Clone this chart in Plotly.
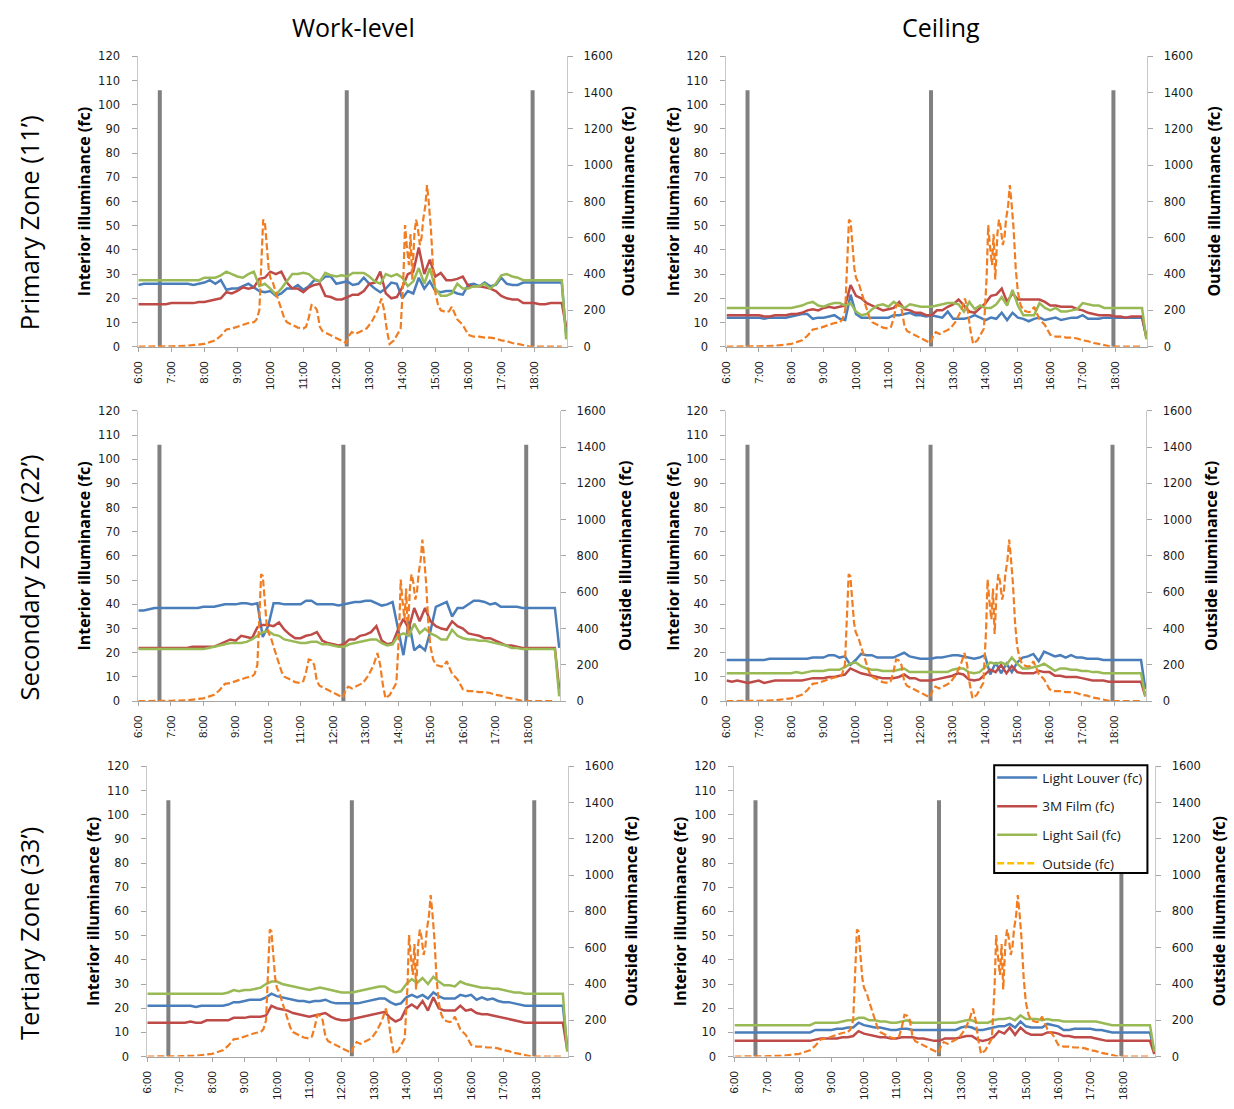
import plotly.graph_objects as go

W, H = 1234, 1109

# ---------------- data ----------------
TICK_HOURS = [6, 7, 8, 9, 10, 11, 12, 13, 14, 15, 16, 17, 18]
TICK_LABELS = ["6:00", "7:00", "8:00", "9:00", "10:00", "11:00", "12:00",
               "13:00", "14:00", "15:00", "16:00", "17:00", "18:00"]

# interior samples every 10 min from 6:00 to 18:50, plus the final drop point
GRID_LABELS = [f"{h}:{m:02d}" for h in range(6, 19) for m in range(0, 60, 10)]
END_TIME = "18:58"

SERIES_NAMES = ["Light Louver (fc)", "3M Film (fc)", "Light Sail (fc)"]

TL_LOUVER = [25.5, 26, 26, 26, 26, 26,
             26, 26, 26, 26, 25.5, 26,
             26.5, 27.5, 26, 27.5, 23.5, 24,
             24, 25, 26, 24.5, 23, 22.5,
             23, 21, 22, 24, 24, 25.5,
             23.5, 25, 27.5, 27, 29, 29,
             26, 26.5, 27, 25.5, 26, 28.5,
             26, 24, 22.5, 24, 26.5, 26,
             20, 23, 22, 28.5, 24, 27,
             23, 22.5, 23, 23, 22, 21.5,
             25.5, 26, 25, 26.5, 25, 25.5,
             28.5, 26, 25.5, 25.5, 26.5, 26.5,
             26.5, 26.5, 26.5, 26.5, 26.5, 26.5,
             5]
TL_FILM = [17.5, 17.5, 17.5, 17.5, 17.5, 17.5,
           18, 18, 18, 18, 18, 18.5,
           18.5, 19, 19.5, 20, 22.5, 22,
           23, 24.5, 24, 24.5, 28, 28.5,
           31, 30, 31, 26.5, 24, 24,
           22.5, 24.5, 25.5, 26, 21, 20.5,
           19.5, 19.5, 20.5, 21.5, 21.5, 23,
           26, 26.5, 31, 22, 20, 20.5,
           24.5, 30, 31, 41, 30, 36,
           29, 30.5, 27.5, 27.5, 28, 29,
           25, 25, 25, 24.5, 24, 23,
           21, 20, 19.5, 19.5, 18, 18,
           18, 17.5, 17.5, 18, 18, 18,
           8]
TL_SAIL = [27.5, 27.5, 27.5, 27.5, 27.5, 27.5,
           27.5, 27.5, 27.5, 27.5, 27.5, 27.5,
           28.5, 28.5, 28.5, 29.5, 31, 30,
           29, 28.5, 30, 31, 25, 26,
           24, 21.5, 24, 27, 30, 30,
           30.5, 30, 28, 27, 30.5, 29.5,
           29, 29.5, 29, 30.5, 30.5, 30.5,
           29, 27, 26, 30, 29, 30,
           28.5, 25, 27, 32.5, 26, 32.5,
           24, 21, 21, 22, 26, 24,
           24, 25, 25, 26, 24, 26,
           29.5, 30, 29, 28.5, 27.5, 27.5,
           27.5, 27.5, 27.5, 27.5, 27.5, 27.5,
           3]

TR_LOUVER = [12, 12, 12, 12, 12, 12,
             12, 11.5, 12, 12, 12, 12,
             12.5, 13, 13.5, 13.5, 11.5, 12,
             12, 12.5, 13, 11.5, 11, 21.5,
             13.5, 12, 12, 12, 12, 12,
             12, 13, 13, 13.5, 14, 13,
             13, 12.5, 13, 12.5, 12, 14.5,
             11.5, 11.5, 11.5, 12, 13, 12,
             11, 12, 11.5, 14, 11, 14,
             12, 11.5, 10.5, 11.5, 12, 11,
             11.5, 12, 11, 11.5, 12, 12,
             13, 11.5, 11.5, 11.5, 12, 12,
             12, 12, 12, 12, 12, 12,
             4]
TR_FILM = [13, 13, 13, 13, 13, 13,
           13, 12.5, 12.5, 13, 13, 13,
           13.5, 13.5, 14, 15, 15.5, 15,
           16, 16.5, 16, 16.5, 17, 25.5,
           21, 20, 18, 17, 16, 15,
           15.5, 16, 18.5, 15.5, 15, 14,
           14, 13, 13, 15, 15, 16.5,
           17.5, 19.5, 17, 14.5, 14, 16,
           18, 21, 21.5, 24, 18.5, 22,
           19.5, 19.5, 19.5, 19.5, 19.5, 18.5,
           17, 17, 16.5, 16.5, 16.5, 15.5,
           15, 14, 13.5, 13, 13, 13,
           12.5, 12.5, 12, 12.5, 12.5, 12.5,
           4]
TR_SAIL = [16, 16, 16, 16, 16, 16,
           16, 16, 16, 16, 16, 16,
           16, 16.5, 17, 18, 18.5, 17,
           16.5, 17.5, 18, 18, 17, 18,
           14.5, 13, 13.5, 15.5, 17, 17.5,
           16.5, 18.5, 17, 16, 17.5, 17,
           16.5, 16.5, 16.5, 17, 17.5, 18,
           18, 17.5, 14.5, 18.5, 15.5, 17,
           16, 16, 17.5, 20.5, 17, 23.5,
           17, 13, 13, 13, 18, 16,
           15, 16, 14.5, 14.5, 15, 15.5,
           18, 17.5, 17, 17, 16, 16,
           16, 16, 16, 16, 16, 16,
           3]

ML_LOUVER = [37.5, 37.5, 38, 38.5, 38.5, 38.5,
             38.5, 38.5, 38.5, 38.5, 38.5, 38.5,
             39, 39, 39, 39.5, 40, 40,
             40, 40.5, 40.5, 40, 40.5, 26.5,
             31, 40.5, 40.5, 40, 40, 40,
             40, 41.5, 41.5, 40, 40, 40,
             40, 39.5, 40, 40.5, 41, 41,
             41.5, 41.5, 40.5, 39.5, 40, 41,
             30, 19, 33, 21, 23, 21,
             29, 39, 40, 41, 35, 38.5,
             38.5, 40, 41.5, 41.5, 41, 40,
             40.5, 39, 39, 39, 39, 38.5,
             38.5, 38.5, 38.5, 38.5, 38.5, 38.5,
             22]
ML_FILM = [22, 22, 22, 22, 22, 22,
           22, 22, 22, 22, 22.5, 22.5,
           22.5, 22.5, 22.5, 23.5, 24.5, 25.5,
           25, 27, 26.5, 26, 30.5, 31.5,
           31.5, 31, 32.5, 29.5, 27.5, 26,
           26, 27, 27.5, 28.5, 25, 24,
           23.5, 23, 23.5, 25.5, 25.5, 27,
           27.5, 28.5, 31, 25, 23.5, 24,
           29.5, 34, 30, 38.5, 33, 38.5,
           33, 31, 30, 29.5, 33, 31,
           30, 28, 27.5, 27, 26, 26,
           25, 24, 23, 23, 22.5, 22,
           22, 22, 22, 22, 22, 22,
           5]
ML_SAIL = [21.5, 21.5, 21.5, 21.5, 21.5, 21.5,
           21.5, 21.5, 21.5, 21.5, 21.5, 21.5,
           21.5, 22, 22.5, 23, 23.5, 24,
           24, 24, 24.5, 25.5, 27, 28.5,
           29, 27.5, 27, 25.5, 25, 24.5,
           24, 24, 24.5, 24.5, 23.5, 23.5,
           23, 22.5, 22.5, 23.5, 24, 24.5,
           25, 25.5, 25.5, 24, 23, 23.5,
           27, 28, 27, 32, 28, 30,
           28, 27, 25.5, 25.5, 29.5, 27,
           26, 25.5, 25.5, 25, 25, 24.5,
           24, 23.5, 23, 22, 22, 21.5,
           21.5, 21.5, 21.5, 21.5, 21.5, 21.5,
           2]

MR_LOUVER = [17, 17, 17, 17, 17, 17,
             17, 17, 17.5, 17.5, 17.5, 17.5,
             17.5, 17.5, 17.5, 17.5, 18, 18,
             18, 19, 19, 18, 18.5, 15,
             17, 19.5, 19, 19, 18, 18,
             18, 18, 19, 20, 18.5, 18,
             17.5, 17.5, 17.5, 18, 18, 18.5,
             19, 19, 18.5, 18, 17.5, 18,
             19, 11, 16, 11.5, 15.5, 12,
             16, 18, 18.5, 19.5, 16.5, 20.5,
             19.5, 18.5, 19, 18, 19, 18,
             18, 17.5, 17.5, 17.5, 17, 17,
             17, 17, 17, 17, 17, 17,
             5]
MR_FILM = [8.5, 8, 8.5, 8, 7.5, 8,
           8.5, 7.5, 8, 8.5, 8.5, 8.5,
           8.5, 8.5, 8.5, 9, 9.5, 9.5,
           9.5, 10, 10, 10.5, 11, 13.5,
           12.5, 11.5, 11, 10.5, 10, 9.5,
           9.5, 9.5, 10, 11, 9.5, 9.5,
           8.5, 8.5, 8.5, 9, 9.5, 10,
           10.5, 11.5, 11, 9, 8.5, 9,
           11, 13, 12, 15, 11.5, 14.5,
           12, 11.5, 11.5, 11.5, 12.5, 12,
           12, 10.5, 10.5, 10, 10, 10,
           9.5, 9, 8.5, 8.5, 8.5, 8,
           8, 8, 8, 8, 8, 8,
           2]
MR_SAIL = [11.5, 11.5, 11.5, 11.5, 11.5, 11.5,
           11.5, 11.5, 11.5, 11.5, 11.5, 11.5,
           11.5, 12, 11.5, 12, 12.5, 12.5,
           12.5, 13, 13, 13, 14, 15.5,
           16, 14.5, 13.5, 13, 13, 12.5,
           12.5, 12.5, 13, 13.5, 12, 12,
           12, 12, 12, 12, 12, 12,
           13, 13.5, 13.5, 12, 11.5, 12,
           14, 16, 15.5, 16, 15, 18,
           15.5, 13.5, 13.5, 14, 14.5, 15.5,
           14, 12.5, 13.5, 13.5, 13, 13,
           12.5, 12.5, 12, 12, 11.5, 11.5,
           11.5, 11.5, 11.5, 11.5, 11.5, 11.5,
           2]

BL_LOUVER = [21, 21, 21, 21, 21, 21,
             21, 21, 21, 20.5, 21, 21,
             21, 21, 21, 21.5, 22.5, 22.5,
             23, 23.5, 23.5, 23.5, 24.5, 26,
             25, 24.5, 24, 23.5, 23, 23,
             22.5, 23, 23, 23.5, 22.5, 22,
             22, 22, 22, 22, 22.5, 23,
             23.5, 24, 24, 22.5, 21.5, 22,
             24.5, 25.5, 24.5, 25.5, 24, 26.5,
             25, 24, 24, 24, 25.5, 25,
             25.5, 23.5, 24.5, 23.5, 24, 23,
             22.5, 22.5, 22, 21.5, 21, 21,
             21, 21, 21, 21, 21, 21,
             4]
BL_FILM = [14, 14, 14, 14, 14, 14,
           14, 14, 14.5, 14, 14, 15,
           15, 15, 15, 15, 16, 16,
           16, 16.5, 16.5, 16.5, 17, 21,
           20, 19.5, 19, 18, 17.5, 17,
           16.5, 17, 17.5, 18, 16.5, 15.5,
           15, 15, 15.5, 16, 16.5, 17,
           17.5, 18, 18.5, 16, 14.5, 15.5,
           20, 21.5, 20, 23, 19, 24.5,
           20, 19, 19, 19, 21, 19,
           19.5, 18, 17.5, 17.5, 17, 16.5,
           16, 15.5, 15, 14.5, 14, 14,
           14, 14, 14, 14, 14, 14,
           3]
BL_SAIL = [26, 26, 26, 26, 26, 26,
           26, 26, 26, 26, 26, 26,
           26, 26, 26, 26.5, 27.5, 27,
           27.5, 27.5, 28, 28.5, 30, 31,
           31, 30, 29.5, 29, 28.5, 28,
           27.5, 28, 28.5, 28, 27.5, 27,
           26.5, 26.5, 26.5, 27, 27.5, 28,
           28.5, 29, 29, 27.5, 26.5, 27,
           30, 32, 30.5, 32.5, 30, 33,
           31, 29.5, 29.5, 29, 31, 30,
           29.5, 29, 28.5, 28.5, 28, 28,
           27.5, 27, 26.5, 26.5, 26, 26,
           26, 26, 26, 26, 26, 26,
           2]

BR_LOUVER = [10, 10, 10, 10, 10, 10,
             10, 10, 10, 10, 10, 10,
             10, 10, 10, 11, 11, 11,
             11, 11.5, 11.5, 12, 12, 14,
             13, 12.5, 12, 12, 11.5, 11,
             11, 11.5, 11.5, 11, 11, 11,
             11, 11, 11, 11, 11, 11,
             12, 12.5, 12, 11, 11, 11.5,
             12, 12.5, 12.5, 13.5, 12, 14.5,
             12.5, 12, 12, 12, 13.5, 13,
             12.5, 11, 11, 11.5, 11.5, 11.5,
             11.5, 11, 11, 10.5, 10, 10,
             10, 10, 10, 10, 10, 10,
             2]
BR_FILM = [6.5, 6.5, 6.5, 6.5, 6.5, 6.5,
           6.5, 6.5, 6.5, 6.5, 6.5, 6.5,
           6.5, 6.5, 6.5, 7, 7.5, 7.5,
           7.5, 7.5, 8, 8, 8.5, 10.5,
           9.5, 9, 8.5, 8, 8, 7.5,
           7.5, 8, 8, 8, 7.5, 7.5,
           7, 6.5, 6.5, 7.5, 7.5, 7.5,
           8, 8.5, 8.5, 7, 6.5, 7,
           8, 10.5, 9.5, 12, 9, 12,
           10, 9, 9, 9, 10, 10,
           9.5, 8.5, 8.5, 8, 8, 8,
           8, 7.5, 7, 6.5, 6.5, 6.5,
           6.5, 6.5, 6.5, 6.5, 6.5, 6.5,
           1]
BR_SAIL = [13, 13, 13, 13, 13, 13,
           13, 13, 13, 13, 13, 13,
           13, 13, 13, 14, 14, 14,
           14, 14, 14.5, 15, 15, 16,
           16, 15, 15, 14.5, 14.5, 14,
           14, 14.5, 15, 14, 14, 14,
           14, 14, 14, 14, 14, 14,
           14.5, 15, 15, 14, 14, 14,
           15, 15.5, 15.5, 16, 15, 17,
           15.5, 15.5, 15.5, 15, 15.5, 15,
           15, 14.5, 14.5, 14.5, 14.5, 14.5,
           14.5, 14.5, 14, 13.5, 13, 13,
           13, 13, 13, 13, 13, 13,
           2]

OUT_TIMES = ["6:00", "6:30", "7:00", "7:30", "7:50", "8:00", "8:10", "8:20", "8:30", "8:40",
             "8:50", "9:00", "9:10", "9:20", "9:30", "9:35", "9:40", "9:44", "9:47", "9:50",
             "9:53", "9:57", "10:00", "10:05", "10:10", "10:15", "10:20", "10:25", "10:30", "10:40",
             "10:50", "11:00", "11:05", "11:10", "11:15", "11:20", "11:25", "11:30", "11:35", "11:45",
             "11:55", "12:05", "12:15", "12:18", "12:23", "12:28", "12:35", "12:45", "12:55", "13:05",
             "13:15", "13:22", "13:27", "13:32", "13:37", "13:45", "13:52", "13:57", "14:02", "14:05",
             "14:08", "14:12", "14:15", "14:18", "14:22", "14:25", "14:28", "14:32", "14:35", "14:38",
             "14:42", "14:45", "14:48", "14:52", "14:56", "15:00", "15:05", "15:10", "15:20", "15:25",
             "15:30", "15:35", "15:40", "15:50", "15:55", "16:00", "16:10", "16:20", "16:30", "16:40",
             "16:50", "17:00", "17:10", "17:20", "17:30", "17:40", "17:50", "18:00", "18:50"]
OUT_VALUES = [0, 0, 2, 5, 10, 15, 25, 35, 60, 95,
              100, 110, 120, 130, 135, 150, 200, 450, 700, 690,
              560, 430, 380, 350, 300, 250, 200, 160, 135, 120,
              105, 100, 110, 160, 230, 225, 200, 110, 85, 70,
              55, 40, 25, 20, 60, 80, 70, 85, 100, 140,
              200, 265, 200, 90, 15, 35, 70, 100, 380, 670,
              560, 450, 620, 370, 620, 700, 660, 560, 600, 700,
              780, 890, 800, 650, 430, 300, 230, 200, 190, 195,
              220, 185, 150, 120, 90, 65, 55, 55, 50, 50,
              45, 35, 30, 20, 15, 8, 2, 0, 0]

# grey markers of the time windows
VLINE_TIMES = ["6:39", "12:19", "17:57"]
VLINE_TOP = 106

COLUMN_TITLES = ["Work-level", "Ceiling"]
ROW_TITLES = ["Primary Zone (11\u2019)", "Secondary Zone (22\u2019)", "Tertiary Zone (33\u2019)"]
LEFT_TITLE = "Interior illuminance (fc)"
RIGHT_TITLE = "Outside illuminance (fc)"

PANEL_DATA = [
    (TL_LOUVER, TL_FILM, TL_SAIL),
    (TR_LOUVER, TR_FILM, TR_SAIL),
    (ML_LOUVER, ML_FILM, ML_SAIL),
    (MR_LOUVER, MR_FILM, MR_SAIL),
    (BL_LOUVER, BL_FILM, BL_SAIL),
    (BR_LOUVER, BR_FILM, BR_SAIL),
]

# ---------------- styling / layout ----------------
COLORS = ["#4A7EBB", "#BE4B48", "#98B954"]
OUT_COLOR = "#F07D22"
OUT_LEGEND_COLOR = "#FFC000"
VLINE_COLOR = "#808080"
AXIS_COLOR = "#C8C8C8"
TEXT_COLOR = "#1a1a1a"
YTICK_FONT = dict(family="DejaVu Sans", size=11.5, color=TEXT_COLOR)
XTICK_FONT = dict(family="Liberation Sans", size=11.5, color=TEXT_COLOR)
TITLE_FONT = dict(family="Open Sans", size=16, color="#000000")

# plot areas in pixels: left x, right x, top y (120), bottom y (0)
PANEL_BOX = [
    (133, 564, 50, 344),
    (724, 1147, 50, 344),
    (133, 557, 409, 703),
    (724, 1146, 409, 703),
    (142, 565, 769, 1063),
    (732, 1155, 769, 1063),
]
# axis title centres (x pixel of left title, x pixel of right title)
TITLE_X = [(78, 625), (670, 1213), (78, 622), (670, 1211), (88, 628), (678, 1219)]
# legend frame in pixels: left, top, right, bottom
LEGEND_BOX = (993, 768, 1147, 877)


def hours(label):
    h, m = label.split(":")
    return int(h) + int(m) / 60.0


grid_x = [hours(t) for t in GRID_LABELS] + [hours(END_TIME)]
out_x = [hours(t) for t in OUT_TIMES]

fig = go.Figure()
layout = {}

for k, (box, data) in enumerate(zip(PANEL_BOX, PANEL_DATA), start=1):
    x0, x1, yt, yb = box
    xname = "x" if k == 1 else f"x{k}"
    yl_i, yr_i = 2 * k - 1, 2 * k
    yl_name = "y" if yl_i == 1 else f"y{yl_i}"
    yr_name = f"y{yr_i}"
    xkey = "xaxis" if k == 1 else f"xaxis{k}"
    ylkey = "yaxis" if yl_i == 1 else f"yaxis{yl_i}"
    yrkey = f"yaxis{yr_i}"

    legend_panel = (k == 6)

    # grey vertical markers
    vx, vy = [], []
    for t in VLINE_TIMES:
        vx += [hours(t), hours(t), None]
        vy += [0, VLINE_TOP, None]
    fig.add_trace(go.Scatter(x=vx, y=vy, mode="lines", xaxis=xname, yaxis=yl_name,
                             line=dict(color=VLINE_COLOR, width=4), showlegend=False,
                             hoverinfo="skip"))

    for name, vals, col in zip(SERIES_NAMES, data, COLORS):
        fig.add_trace(go.Scatter(x=grid_x, y=vals, mode="lines", name=name,
                                 xaxis=xname, yaxis=yl_name,
                                 line=dict(color=col, width=2.5),
                                 showlegend=legend_panel, legendgroup=name))

    fig.add_trace(go.Scatter(x=out_x, y=OUT_VALUES, mode="lines", name="Outside (fc)",
                             xaxis=xname, yaxis=yr_name,
                             line=dict(color=OUT_COLOR, width=2.2, dash="7px,3px"),
                             showlegend=False))
    if legend_panel:
        fig.add_trace(go.Scatter(x=[None], y=[None], mode="lines", name="Outside (fc)",
                                 xaxis=xname, yaxis=yr_name, legendgroup="Outside (fc)",
                                 line=dict(color=OUT_LEGEND_COLOR, width=2.5, dash="7px,3px"),
                                 showlegend=True))

    dom_x = [x0 / W, x1 / W]
    dom_y = [1 - yb / H, 1 - yt / H]
    layout[xkey] = dict(domain=dom_x, anchor=yl_name, range=[6, 19.0],
                        tickmode="array", tickvals=TICK_HOURS, ticktext=TICK_LABELS,
                        tickangle=-90, ticks="outside", ticklen=4, tickcolor="#A6A6A6",
                        ticklabelstandoff=5,
                        showline=True, linecolor="#A6A6A6", linewidth=1,
                        showgrid=False, zeroline=False, tickfont=XTICK_FONT)
    layout[ylkey] = dict(domain=dom_y, anchor=xname, range=[0, 120], tick0=0, dtick=10,
                         ticks="outside", ticklen=5, tickcolor="#A6A6A6",
                         ticklabelstandoff=10,
                         showline=True, linecolor=AXIS_COLOR, linewidth=1,
                         showgrid=False, zeroline=False, tickfont=YTICK_FONT)
    layout[yrkey] = dict(overlaying=yl_name, anchor=xname, side="right", range=[0, 1600],
                         tick0=0, dtick=200, ticks="outside", ticklen=5, tickcolor="#A6A6A6",
                         ticklabelstandoff=8,
                         showline=True, linecolor=AXIS_COLOR, linewidth=1,
                         showgrid=False, zeroline=False, tickfont=YTICK_FONT)

annotations = []
# axis titles
for (x0, x1, yt, yb), (lx, rx) in zip(PANEL_BOX, TITLE_X):
    yc = 1 - (yt + yb) / 2 / H
    annotations.append(dict(text=f"<b>{LEFT_TITLE}</b>", x=lx / W, y=yc, xref="paper", yref="paper",
                            textangle=-90, showarrow=False, font=TITLE_FONT,
                            xanchor="center", yanchor="middle"))
    annotations.append(dict(text=f"<b>{RIGHT_TITLE}</b>", x=rx / W, y=yc, xref="paper", yref="paper",
                            textangle=-90, showarrow=False, font=TITLE_FONT,
                            xanchor="center", yanchor="middle"))
# column titles
for title, cx in zip(COLUMN_TITLES, [349, 940]):
    annotations.append(dict(text=title, x=cx / W, y=1 - 20 / H, xref="paper", yref="paper",
                            showarrow=False, font=dict(family="Open Sans", size=25, color="#000"),
                            xanchor="center", yanchor="middle"))
# row titles
for title, cy in zip(ROW_TITLES, [218, 578, 938]):
    annotations.append(dict(text=title, x=23 / W, y=1 - cy / H, xref="paper", yref="paper",
                            textangle=-90, showarrow=False,
                            font=dict(family="Open Sans", size=25.5, color="#000"),
                            xanchor="center", yanchor="middle"))

lx0, ly0, lx1, ly1 = LEGEND_BOX
legend_frame = dict(type="rect", xref="paper", yref="paper", layer="above",
                    x0=lx0 / W, x1=lx1 / W, y0=1 - ly1 / H, y1=1 - ly0 / H,
                    fillcolor="white", line=dict(color="black", width=2))

fig.update_layout(
    width=W, height=H, margin=dict(l=0, r=0, t=0, b=0),
    paper_bgcolor="white", plot_bgcolor="white",
    annotations=annotations,
    shapes=[legend_frame],
    legend=dict(x=(lx0 - 2) / W, y=1 - (ly0 - 3) / H, xanchor="left", yanchor="top",
                bgcolor="rgba(0,0,0,0)", borderwidth=0,
                font=dict(family="Open Sans", size=13.5, color=TEXT_COLOR),
                tracegroupgap=8, itemwidth=40),
    legend_traceorder="grouped",
    **layout,
)

fig.write_html("out.html")
